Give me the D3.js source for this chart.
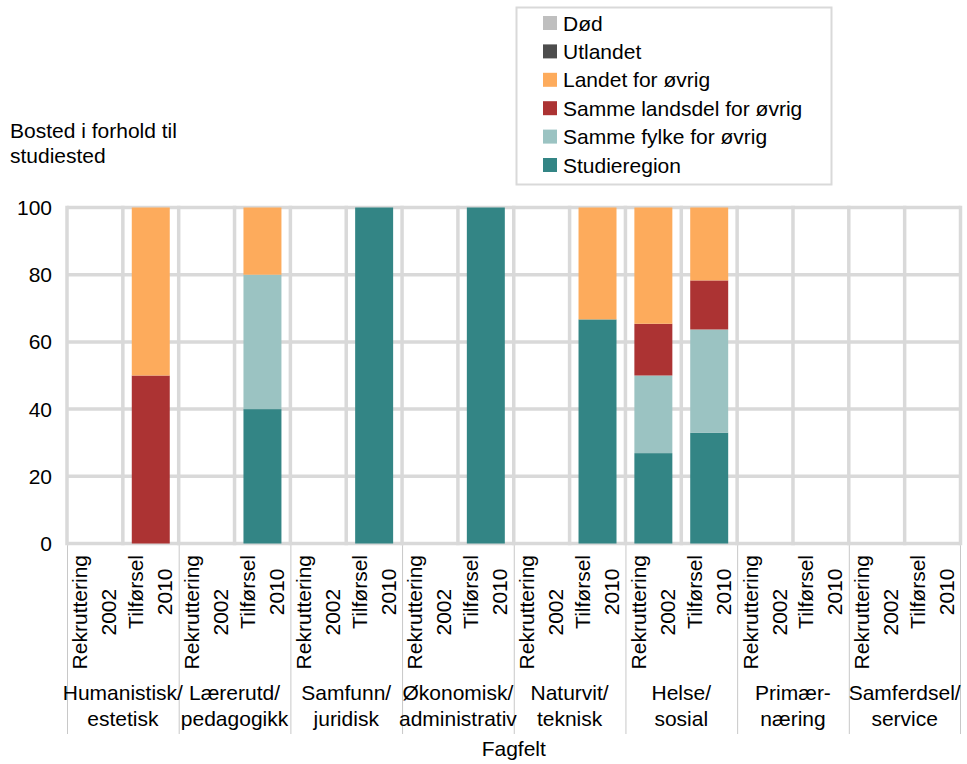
<!DOCTYPE html>
<html>
<head>
<meta charset="utf-8">
<script src="https://cdn.jsdelivr.net/npm/d3@7"></script>
<style>
  html, body { margin: 0; padding: 0; background: #ffffff; }
  svg { display: block; font-family: "Liberation Sans", Arial, sans-serif; }
</style>
</head>
<body>
<svg id="chart" width="967" height="764"></svg>
<script>
// ---------- DATA ----------
const categories = [
  ["Humanistisk/", "estetisk"],
  ["Lærerutd/", "pedagogikk"],
  ["Samfunn/", "juridisk"],
  ["Økonomisk/", "administrativ"],
  ["Naturvit/", "teknisk"],
  ["Helse/", "sosial"],
  ["Primær-", "næring"],
  ["Samferdsel/", "service"]
];
const subLabels = [["Rekruttering", "2002"], ["Tilførsel", "2010"]];
const seriesNames = ["Studieregion", "Samme fylke for øvrig", "Samme landsdel for øvrig", "Landet for øvrig", "Utlandet", "Død"];
// values per bar: [group0 Rekruttering, group0 Tilførsel, group1 Rekruttering, ...]
const studieregion  = [0, 0,  0, 40,  0, 100,  0, 100,  0, 66.7,  26.9, 33.0,  0, 0,  0, 0];
const sammeFylke    = [0, 0,  0, 40,  0, 0,    0, 0,    0, 0,     23.1, 30.7,  0, 0,  0, 0];
const sammeLandsdel = [0, 50, 0, 0,   0, 0,    0, 0,    0, 0,     15.4, 14.6,  0, 0,  0, 0];
const landet        = [0, 50, 0, 20,  0, 0,    0, 0,    0, 33.3,  34.6, 21.7,  0, 0,  0, 0];
const utlandet      = [0, 0,  0, 0,   0, 0,    0, 0,    0, 0,     0, 0,        0, 0,  0, 0];
const dod           = [0, 0,  0, 0,   0, 0,    0, 0,    0, 0,     0, 0,        0, 0,  0, 0];
const yTicks = [0, 20, 40, 60, 80, 100];
const colors = ["#338585", "#9bc3c2", "#ac3333", "#fdab5c", "#4d4d4d", "#bfbfbf"];
const yTitle = ["Bosted i forhold til", "studiested"];
const xTitle = "Fagfelt";

// ---------- BUILD ----------
(function () {
const seriesValues = [studieregion, sammeFylke, sammeLandsdel, landet, utlandet, dod];
const rows = [];
categories.forEach((c, gi) => {
  subLabels.forEach((s, si) => {
    const r = { group: gi, sub: si };
    seriesNames.forEach((n, k) => { r[n] = seriesValues[k][gi * 2 + si]; });
    rows.push(r);
  });
});

const svg = d3.select("#chart");
const FONT = 21;
const pLeft = 67, pRight = 960.5, pTop = 207.5, pBottom = 543.5;

const x0 = d3.scaleBand().domain(d3.range(categories.length)).range([pLeft, pRight]).padding(0);
const x1 = d3.scaleBand().domain(d3.range(subLabels.length)).range([0, x0.bandwidth()])
  .paddingInner(0.32).paddingOuter(0.16);
const y = d3.scaleLinear().domain([0, 100]).range([pBottom, pTop]);

// gridlines
const grid = svg.append("g");
grid.selectAll("line.h").data(yTicks).join("line")
  .attr("x1", pLeft).attr("x2", pRight)
  .attr("y1", d => y(d)).attr("y2", d => y(d))
  .attr("stroke", "#d9d9d9").attr("stroke-width", 3.5);
const slotStep = x1.step();
const vlines = d3.range(categories.length * subLabels.length + 1).map(i => pLeft + i * slotStep);
grid.selectAll("line.v").data(vlines).join("line")
  .attr("x1", d => d).attr("x2", d => d)
  .attr("y1", pTop - 1.75).attr("y2", pBottom + 1.75)
  .attr("stroke", "#d9d9d9").attr("stroke-width", 3.5);

// bars
const stack = d3.stack().keys(seriesNames);
const stacked = stack(rows);
svg.append("g").selectAll("g").data(stacked).join("g")
  .attr("fill", (d, i) => colors[i])
  .selectAll("rect").data(d => d.filter(p => p[1] - p[0] > 0)).join("rect")
  .attr("x", d => x0(d.data.group) + x1(d.data.sub))
  .attr("width", x1.bandwidth())
  .attr("y", d => y(d[1]))
  .attr("height", d => y(d[0]) - y(d[1]));

// y axis labels
svg.append("g").selectAll("text").data(yTicks).join("text")
  .attr("x", 52).attr("y", d => y(d)).attr("dy", "0.36em")
  .attr("text-anchor", "end").attr("font-size", FONT).attr("fill", "#000")
  .text(d => d);

// y title
svg.append("g").selectAll("text").data(yTitle).join("text")
  .attr("x", 10).attr("y", (d, i) => 138 + i * 25)
  .attr("font-size", FONT).attr("fill", "#000").text(d => d);

// category separators
const seps = d3.range(categories.length + 1).map(i => i === categories.length ? pRight : x0(i) + 0.5);
svg.append("g").selectAll("line").data(seps).join("line")
  .attr("x1", d => d).attr("x2", d => d)
  .attr("y1", pBottom + 1.75).attr("y2", 734)
  .attr("stroke", "#c8c8c8").attr("stroke-width", 1);

// rotated sub labels
rows.forEach(r => {
  const xc = x0(r.group) + x1(r.sub) + x1.bandwidth() / 2;
  const g = svg.append("g").attr("transform", `translate(${xc},555) rotate(-90)`);
  const lines = subLabels[r.sub];
  const texts = lines.map((t, i) => g.append("text")
    .attr("y", i === 0 ? -7.5 : 21.5)
    .attr("text-anchor", "middle").attr("font-size", FONT).attr("fill", "#000").text(t));
  const maxLen = d3.max(texts, t => t.node().getComputedTextLength());
  texts.forEach(t => t.attr("x", -maxLen / 2));
});

// category labels
svg.append("g").selectAll("g").data(categories).join("g")
  .each(function(d, i) {
    const cx = x0(i) + x0.bandwidth() / 2;
    d3.select(this).selectAll("text").data(d).join("text")
      .attr("x", cx).attr("y", (t, j) => 700 + j * 25.5)
      .attr("text-anchor", "middle").attr("font-size", FONT).attr("fill", "#000")
      .text(t => t);
  });

// x title
svg.append("text").attr("x", (pLeft + pRight) / 2).attr("y", 756)
  .attr("text-anchor", "middle").attr("font-size", FONT).attr("fill", "#000").text(xTitle);

// legend
const lg = svg.append("g");
lg.append("rect").attr("x", 516.5).attr("y", 7.5).attr("width", 315).attr("height", 177)
  .attr("fill", "#fff").attr("stroke", "#d9d9d9").attr("stroke-width", 2);
const legendItems = seriesNames.map((n, i) => ({ name: n, color: colors[i] })).reverse();
const li = lg.selectAll("g.item").data(legendItems).join("g")
  .attr("transform", (d, i) => `translate(543,${23 + i * 28.4})`);
li.append("rect").attr("x", 0).attr("y", -7).attr("width", 14).attr("height", 14)
  .attr("fill", d => d.color);
li.append("text").attr("x", 20).attr("y", 0).attr("dy", "0.36em")
  .attr("font-size", FONT).attr("fill", "#000").text(d => d.name);
})();
</script>
</body>
</html>
